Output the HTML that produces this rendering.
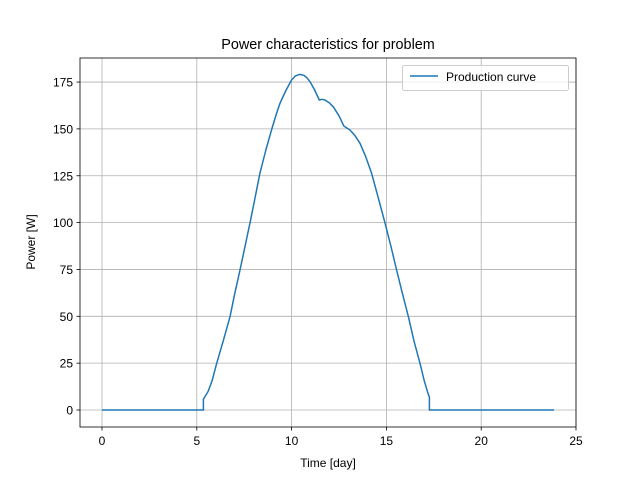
<!DOCTYPE html>
<html><head><meta charset="utf-8"><style>
body{margin:0;background:#fff}
svg{font-family:"Liberation Sans","DejaVu Sans",sans-serif;display:block}
</style></head><body>
<svg id="chart" width="640" height="480">
<rect width="640" height="480" fill="#fff"/>
<g id="grid"></g>
<g id="ticks"></g>
<path id="line" fill="none" stroke="#1f77b4" stroke-width="1.5" stroke-linejoin="round"/>
<rect x="80" y="58" width="496" height="369" fill="none" stroke="#000" stroke-width="0.8"/>
<text x="328" y="49" text-anchor="middle" font-size="14.4">Power characteristics for problem</text>
<text x="328" y="467" text-anchor="middle" font-size="12">Time [day]</text>
<text transform="translate(35,242) rotate(-90)" text-anchor="middle" font-size="12">Power [W]</text>
<g>
<rect x="402.5" y="65.5" width="166" height="25" rx="2" fill="#fff" fill-opacity="0.8" stroke="#ccc"/>
<line x1="410" y1="76" x2="438" y2="76" stroke="#1f77b4" stroke-width="1.5"/>
<text x="446" y="81" font-size="12">Production curve</text>
</g>
</svg>
<script>
const xTicks=[0,5,10,15,20,25];
const yTicks=[0,25,50,75,100,125,150,175];
const timeVals=[0,5.35,5.35,5.6,5.8,6.05,6.4,6.75,7.0,7.28,7.55,7.8,8.05,8.33,8.65,8.95,9.2,9.39,9.7,10.0,10.2,10.41,10.65,10.8,10.97,11.2,11.46,11.6,11.76,12.0,12.2,12.5,12.76,13.08,13.35,13.61,13.9,14.22,14.55,14.93,15.25,15.54,15.85,16.16,16.45,16.77,17.0,17.21,17.27,17.27,23.84];
const powerVals=[0,0,5.7,10,15.5,24.9,37,49.8,62,74.7,87.5,99.6,112,126.3,139,149.8,158,163.7,170.5,176.1,178.3,179.1,178.6,177.3,175.2,171,165.4,165.8,165.4,163.8,161.8,157,151.5,149.4,146.3,142.3,135.5,126.3,114,99.6,87,74.7,62,49.8,37,24.9,15.5,8.4,7,0,0];
const X=v=>102+v*18.96;
const Y=v=>410-v*1.874;
const NS='http://www.w3.org/2000/svg';
const grid=document.getElementById('grid'),ticks=document.getElementById('ticks');
function mk(tag,attrs,parent){const e=document.createElementNS(NS,tag);for(const k in attrs)e.setAttribute(k,attrs[k]);parent.appendChild(e);return e;}
xTicks.forEach(t=>{const x=X(t);
const g=mk('line',{x1:x,x2:x,y1:58,y2:427,stroke:'#b0b0b0','stroke-width':0.8},grid);


const tk=mk('line',{x1:x,x2:x,y1:427,y2:430.5,stroke:'#000','stroke-width':0.8},ticks);


const l=mk('text',{x:x,y:445,'text-anchor':'middle','font-size':12},ticks);l.textContent=t;

});
yTicks.forEach(t=>{const y=Y(t);
const g=mk('line',{x1:80,x2:576,y1:y,y2:y,stroke:'#b0b0b0','stroke-width':0.8},grid);


const tk=mk('line',{x1:76.5,x2:80,y1:y,y2:y,stroke:'#000','stroke-width':0.8},ticks);


const l=mk('text',{x:73,y:y+4.5,'text-anchor':'end','font-size':12},ticks);l.textContent=t;

});
document.getElementById('line').setAttribute('d',timeVals.map((t,i)=>(i?'L':'M')+X(t).toFixed(1)+','+Y(powerVals[i]).toFixed(1)).join(''));
</script>
</body></html>
